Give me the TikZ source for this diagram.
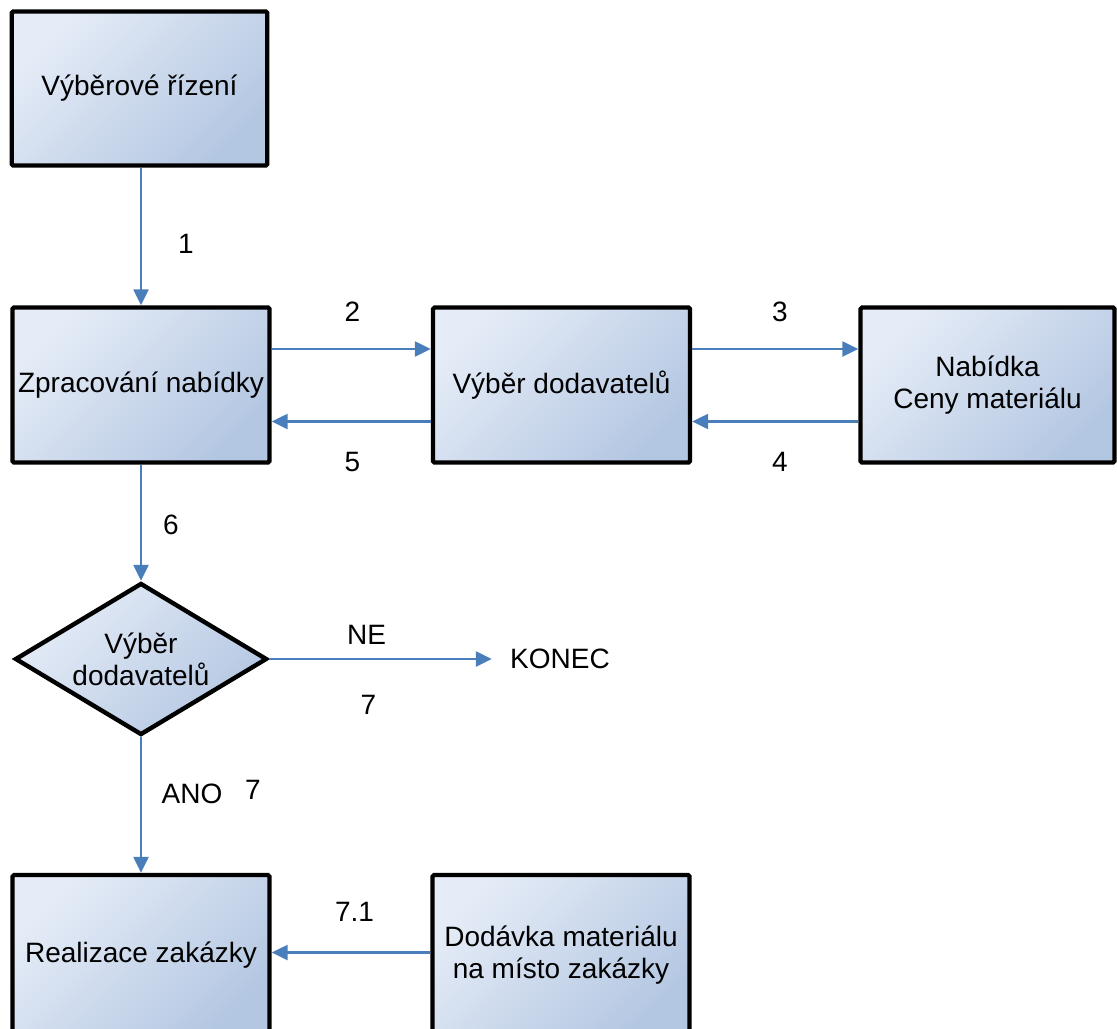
\documentclass[tikz,border=0pt]{standalone}
\usepackage{fontspec}
\setmainfont{Liberation Sans}
\usetikzlibrary{shapes.geometric,arrows.meta}
\definecolor{boxlight}{RGB}{229,236,247}
\definecolor{boxdark}{RGB}{180,199,226}
\definecolor{arrowblue}{RGB}{74,126,187}
\begin{document}
\begin{tikzpicture}[x=0.5pt,y=-0.5pt,
  txt/.style={font=\fontsize{14pt}{16pt}\selectfont},
  procbox/.style={txt, draw=black, line width=2.2pt, rounded corners=0.8pt,
    top color=boxlight, bottom color=boxdark, shading angle=45,
    inner sep=0pt, align=center, minimum width=128.5pt, minimum height=77.5pt},
  decision/.style={txt, shape=diamond, aspect=1.66, draw=black, line width=2.2pt,
    top color=boxlight, bottom color=boxdark, shading angle=45,
    inner sep=0pt, align=center, minimum width=126pt, minimum height=76pt},
  lbl/.style={txt, inner sep=0pt},
  flow/.style={draw=arrowblue, line width=1.2pt, -{Triangle[length=8pt,width=7.5pt]}}
]
\useasboundingbox (0,0) rectangle (1117,1028);
\clip (0,0) rectangle (1117,1028);

% boxes
\node[procbox, minimum width=127.75pt, minimum height=77pt] (A) at (139.5,88.5) {Výběrové řízení};
\node[procbox] (B) at (141,385) {Zpracování nabídky};
\node[procbox] (C) at (561.5,385) {Výběr dodavatelů};
\node[procbox, minimum width=127pt] (D) at (987.5,385) {Nabídka\\Ceny materiálu};
\node[decision] (Q) at (141,659) {Výběr\\dodavatelů};
\node[lbl, inner sep=9pt] (K) at (560,659) {KONEC};
\node[procbox, minimum height=80pt] (E) at (141,955) {Realizace zakázky};
\node[procbox, minimum height=80pt] (F) at (561,955) {Dodávka materiálu\\na místo zakázky};

% connectors
\draw[flow] (A.south -| B.north) -- (B.north);
\draw[flow] ([yshift=18pt]B.east) -- ([yshift=18pt]C.west);
\draw[flow] ([yshift=-18.25pt]C.west) -- ([yshift=-18.25pt]B.east);
\draw[flow] ([yshift=18pt]C.east) -- ([yshift=18pt]D.west);
\draw[flow] ([yshift=-18.25pt]D.west) -- ([yshift=-18.25pt]C.east);
\draw[flow] (B.south) -- (Q.north);
\draw[flow] (Q.east) -- (K.west);
\draw[flow] (Q.south) -- (E.north);
\draw[flow] ([yshift=1.25pt]F.west) -- ([yshift=1.25pt]E.east);

% labels
\node[lbl] (l1) at (186,244) {1};
\node[lbl] (l2) at (352.5,312) {2};
\node[lbl] (l3) at (780,312) {3};
\node[lbl] (l4) at (780,462) {4};
\node[lbl] (l5) at (352.5,462) {5};
\node[lbl] (l6) at (171,525) {6};
\node[lbl] (lne) at (366.5,635) {NE};
\node[lbl] (l7a) at (368.5,705) {7};
\node[lbl] (lano) at (192,793.5) {ANO};
\node[lbl] (l7b) at (253,789.5) {7};
\node[lbl] (l71) at (354.5,912) {7.1};
\end{tikzpicture}
\end{document}
